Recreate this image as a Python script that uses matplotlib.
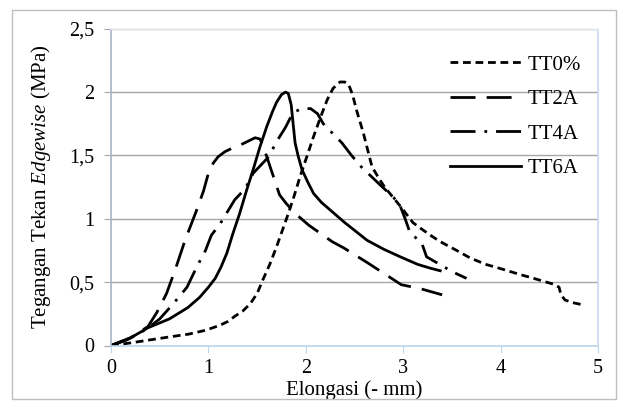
import matplotlib
matplotlib.use("Agg")
import matplotlib.pyplot as plt
from matplotlib.patches import Rectangle
from matplotlib.ticker import FuncFormatter

plt.rcParams["font.family"] = ["Liberation Serif", "DejaVu Serif"]
plt.rcParams["mathtext.fontset"] = "custom"
plt.rcParams["mathtext.rm"] = "Liberation Serif"
plt.rcParams["mathtext.it"] = "Liberation Serif:italic"

# elongation (mm) / edgewise compressive stress (MPa)
tt0_x = [0, 0.15, 0.28, 0.45, 0.62, 0.80, 0.97, 1.12, 1.20, 1.27, 1.35, 1.43, 1.50,
         1.56, 1.63, 1.70, 1.76, 1.82, 1.88, 1.94, 2.01, 2.08, 2.15, 2.22, 2.28, 2.35,
         2.40, 2.44, 2.48, 2.52, 2.59, 2.68, 2.75, 2.81, 2.97, 3.10, 3.17, 3.28, 3.38,
         3.55, 3.69, 3.85, 4.03, 4.20, 4.34, 4.56, 4.60, 4.62, 4.66, 4.73, 4.85]
tt0_y = [0, 0.015, 0.03, 0.05, 0.07, 0.09, 0.12, 0.16, 0.19, 0.23, 0.27, 0.33, 0.41,
         0.52, 0.64, 0.78, 0.91, 1.04, 1.18, 1.33, 1.49, 1.65, 1.80, 1.94, 2.03, 2.08,
         2.08, 2.06, 1.98, 1.86, 1.68, 1.41, 1.32, 1.25, 1.10, 0.97, 0.93, 0.87, 0.82,
         0.75, 0.69, 0.64, 0.60, 0.56, 0.53, 0.48, 0.46, 0.40, 0.36, 0.34, 0.32]

tt2_x = [0, 0.20, 0.38, 0.47, 0.57, 0.66, 0.76, 0.88, 0.95, 1.00, 1.05, 1.10, 1.17,
         1.25, 1.32, 1.40, 1.48, 1.53, 1.56, 1.73, 1.80, 1.91, 2.03, 2.27, 2.39, 2.64,
         2.74, 2.98, 3.17, 3.40]
tt2_y = [0, 0.06, 0.15, 0.26, 0.41, 0.60, 0.83, 1.07, 1.22, 1.36, 1.44, 1.49, 1.53,
         1.56, 1.58, 1.61, 1.64, 1.63, 1.58, 1.19, 1.12, 1.03, 0.95, 0.82, 0.77, 0.65,
         0.60, 0.48, 0.45, 0.40]

tt4_x = [0, 0.15, 0.30, 0.40, 0.50, 0.64, 0.78, 0.88, 0.97, 1.03, 1.12, 1.27, 1.38,
         1.46, 1.62, 1.70, 1.79, 1.87, 1.96, 2.05, 2.12, 2.18, 2.37, 2.47, 2.57, 2.76,
         2.90, 2.97, 3.02, 3.07, 3.19, 3.24, 3.51, 3.65]
tt4_y = [0, 0.04, 0.10, 0.15, 0.21, 0.33, 0.46, 0.62, 0.75, 0.87, 0.96, 1.15, 1.24,
         1.36, 1.49, 1.61, 1.72, 1.84, 1.87, 1.87, 1.83, 1.75, 1.60, 1.50, 1.41, 1.27,
         1.17, 1.10, 1.00, 0.89, 0.81, 0.70, 0.58, 0.53]

tt6_x = [0, 0.20, 0.38, 0.60, 0.79, 0.91, 1.00, 1.07, 1.13, 1.19, 1.25, 1.32, 1.39,
         1.46, 1.53, 1.60, 1.66, 1.70, 1.75, 1.79, 1.82, 1.85, 1.87, 1.89, 1.92, 1.96,
         2.02, 2.08, 2.16, 2.25, 2.40, 2.63, 2.80, 2.97, 3.15, 3.28, 3.38]
tt6_y = [0, 0.06, 0.14, 0.21, 0.30, 0.38, 0.46, 0.53, 0.62, 0.73, 0.88, 1.04, 1.22,
         1.39, 1.57, 1.73, 1.85, 1.92, 1.98, 2.00, 1.99, 1.90, 1.75, 1.60, 1.50, 1.39,
         1.29, 1.20, 1.13, 1.07, 0.97, 0.83, 0.76, 0.70, 0.64, 0.61, 0.59]

labels = ["TT0%", "TT2A", "TT4A", "TT6A"]

fig = plt.figure(figsize=(6.26, 4.08), dpi=100)
ax = fig.add_axes([111 / 626, 1 - 345.5 / 408, 487 / 626, 316.7 / 408])

lw = 2.0
ax.plot(tt0_x, tt0_y, color="black", lw=lw, linestyle=(0, (2.8, 1.7)), label=labels[0])
ax.plot(tt2_x, tt2_y, color="black", lw=lw, linestyle=(0, (9, 4)), label=labels[1])
ax.plot(tt4_x, tt4_y, color="black", lw=lw, linestyle=(0, (9, 3.2, 1, 3.2)), label=labels[2])
ax.plot(tt6_x, tt6_y, color="black", lw=lw, linestyle="-", label=labels[3])

ax.set_xlim(0, 5)
ax.set_ylim(0, 2.5)
ax.set_xticks([0, 1, 2, 3, 4, 5])
ax.set_yticks([0, 0.5, 1, 1.5, 2, 2.5])
ax.yaxis.set_major_formatter(FuncFormatter(lambda v, p: f"{v:g}".replace(".", ",")))
ax.grid(axis="y", color="#a6a6a6", lw=1)
ax.set_axisbelow(True)

ax.spines["left"].set_color("#a6b4c4")
ax.spines["bottom"].set_color("#bdd7ee")
ax.spines["right"].set_color("#c9dcef")
ax.spines["top"].set_color("#eef3f8")
for s in ax.spines.values():
    s.set_linewidth(1.2)
ax.tick_params(axis="x", colors="#bdd7ee", labelcolor="black", length=5, labelsize=14.5, pad=5)
ax.tick_params(axis="y", colors="#a6a6a6", labelcolor="black", length=5, labelsize=14.5, pad=7)

ax.set_xlabel("Elongasi (- mm)", fontsize=15, labelpad=1)
ax.set_ylabel("Tegangan Tekan $\\mathit{Edgewise}$ (MPa)", fontsize=15, labelpad=12)

leg = ax.legend(loc="upper left", bbox_to_anchor=(450 / 626, 1 - 55 / 408),
                bbox_transform=fig.transFigure, frameon=False, borderpad=0,
                borderaxespad=0, handlelength=3.4, labelspacing=0.72,
                handletextpad=0.34, fontsize=15)

fig.patches.append(Rectangle((12 / 626, 1 - 399 / 408), 604 / 626, 389 / 408,
                             transform=fig.transFigure, fill=False,
                             edgecolor="#bfbfbf", lw=1))

fig.savefig("out.png", dpi=100)
